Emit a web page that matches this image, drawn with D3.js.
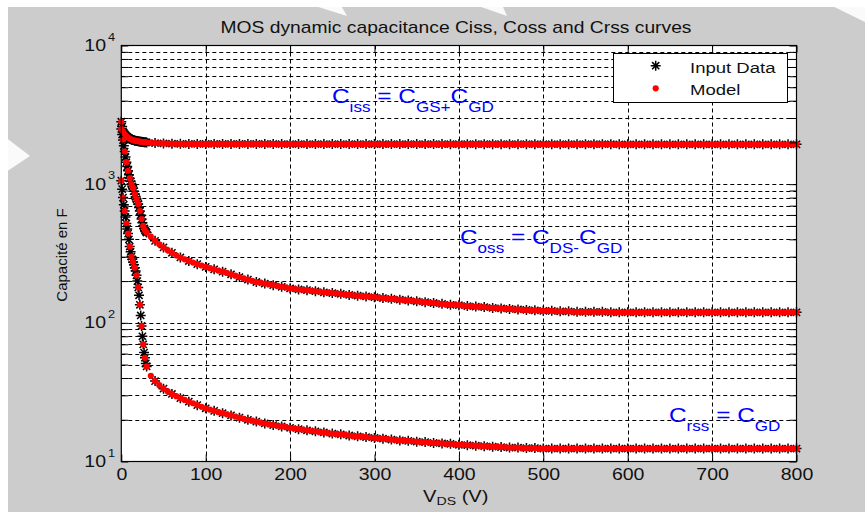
<!DOCTYPE html>
<html>
<head>
<meta charset="utf-8">
<script src="https://cdn.jsdelivr.net/npm/d3@7"></script>
<style>
  html, body { margin: 0; padding: 0; background: #fff; }
  svg { display: block; }
</style>
</head>
<body>
<svg id="chart" width="865" height="512"></svg>
<script>
// ---- x tick values (V) ----
const xTicks = [0, 100, 200, 300, 400, 500, 600, 700, 800];
// ---- y decade exponents (10^n F) ----
const yExponents = [1, 2, 3, 4];

// ---- measured input data: drain-source voltage (V) ----
const vInput = [
  0,1,2,3,4,5,6,7,8,9,10,11,12,13,14,15,16,17,18,19,20,21,22,23,24,25,26,27,28,29,30,
  40,50,60,70,80,90,100,110,120,130,140,150,160,170,180,190,200,210,220,230,
  240,250,260,270,280,290,300,310,320,330,340,350,360,370,380,390,400,410,420,430,
  440,450,460,470,480,490,500,510,520,530,540,550,560,570,580,590,600,610,620,630,
  640,650,660,670,680,690,700,710,720,730,740,750,760,770,780,790,800
];
const cissInput = [
  2820,2600,2400,2350,2300,2260,2220,2195,2170,2150,2130,2115,2100,2090,2080,2070,2060,2055,2050,2045,2040,2035,2030,2025,2020,2015,2010,2008,2005,2002,2000,
  1980,1966,1958,1953,1951,1950,1950,1950,1950,1950,1950,1950,1950,1950,1950,1948,1948,1948,1948,1948,
  1948,1948,1948,1948,1948,1946,1946,1946,1946,1946,1946,1946,1946,1946,1946,1944,1944,1944,1944,1944,
  1944,1944,1944,1944,1944,1942,1942,1942,1942,1942,1942,1942,1942,1942,1942,1940,1940,1940,1940,1940,
  1940,1940,1940,1940,1940,1938,1938,1938,1938,1938,1938,1938,1938,1938,1938,1938,1938
];
const cossInput = [
  2500,2280,2080,1890,1720,1570,1440,1340,1250,1170,1100,1050,1000,965,935,890,845,810,780,750,720,680,640,600,560,528,500,480,465,455,448,
  390,350,320,296,279,265,253,243,234,224,214,205,197,192,187,182,177,174,172,169,
  166,164,162,159,157,155,153,151,149,147,145,143,141,139,137,135,134,132,131,130,
  128,127,126,125,124,123,122,122,121,121,120,120,120,120,119,119,119,119,119,119,
  119,119,119,119,119,119,119,119,119,119,119,119,119,119,119,119,119
];
const crssInput = [
  1060,920,800,710,640,580,520,475,440,400,355,325,300,287,275,262,250,236,220,200,180,158,135,113,95,80,70,61,56,51,48.5,
  38,33.5,30.7,28.6,27,25.5,24.2,23.2,22.3,21.5,20.7,20.0,19.4,18.8,18.3,17.9,17.5,17.1,16.8,16.5,
  16.2,15.9,15.7,15.4,15.2,15.0,14.8,14.6,14.4,14.2,14.1,13.9,13.8,13.6,13.5,13.4,13.2,13.1,13.0,12.9,
  12.8,12.7,12.6,12.6,12.5,12.5,12.4,12.4,12.4,12.4,12.4,12.4,12.4,12.4,12.4,12.4,12.4,12.4,12.4,12.4,
  12.4,12.4,12.4,12.4,12.4,12.4,12.4,12.4,12.4,12.4,12.4,12.4,12.4,12.4,12.4,12.4,12.4
];

// ---- fitted model: drain-source voltage (V) ----
const vModel = [
  0,2,4,6,8,10,12,14,16,18,20,22,24,26,28,30,
  35,40,45,50,55,60,65,70,75,80,
  85,90,95,100,105,110,115,120,125,130,
  135,140,145,150,155,160,165,170,175,180,
  185,190,195,200,205,210,215,220,225,230,
  235,240,245,250,255,260,265,270,275,280,
  285,290,295,300,305,310,315,320,325,330,
  335,340,345,350,355,360,365,370,375,380,
  385,390,395,400,405,410,415,420,425,430,
  435,440,445,450,455,460,465,470,475,480,
  485,490,495,500,505,510,515,520,525,530,
  535,540,545,550,555,560,565,570,575,580,
  585,590,595,600,605,610,615,620,625,630,
  635,640,645,650,655,660,665,670,675,680,
  685,690,695,700,705,710,715,720,725,730,
  735,740,745,750,755,760,765,770,775,780,
  785,790,795,800
];
const cissModel = [
  2820,2400,2300,2220,2170,2130,2100,2080,2060,2050,2040,2030,2020,2010,2005,2000,
  1990,1980,1972,1966,1962,1958,1955,1953,1952,1951,
  1950,1950,1950,1950,1950,1950,1950,1950,1950,1950,
  1950,1950,1950,1950,1950,1950,1950,1950,1950,1950,
  1948,1948,1948,1948,1948,1948,1948,1948,1948,1948,
  1948,1948,1948,1948,1948,1948,1948,1948,1948,1948,
  1946,1946,1946,1946,1946,1946,1946,1946,1946,1946,
  1946,1946,1946,1946,1946,1946,1946,1946,1946,1946,
  1944,1944,1944,1944,1944,1944,1944,1944,1944,1944,
  1944,1944,1944,1944,1944,1944,1944,1944,1944,1944,
  1942,1942,1942,1942,1942,1942,1942,1942,1942,1942,
  1942,1942,1942,1942,1942,1942,1942,1942,1942,1942,
  1940,1940,1940,1940,1940,1940,1940,1940,1940,1940,
  1940,1940,1940,1940,1940,1940,1940,1940,1940,1940,
  1938,1938,1938,1938,1938,1938,1938,1938,1938,1938,
  1938,1938,1938,1938,1938,1938,1938,1938,1938,1938,
  1938,1938,1938,1938
];
const cossModel = [
  2500,2080,1720,1440,1250,1100,1000,935,845,780,720,640,560,500,465,448,
  418,390,368,350,334,320,307,296,287,279,
  272,265,259,253,248,243,238,234,229,224,
  219,214,209,205,201,197,195,192,190,187,
  185,182,180,177,176,174,173,172,170,169,
  168,166,165,164,163,162,160,159,158,157,
  156,155,154,153,152,151,150,149,148,147,
  146,145,144,143,142,141,140,139,138,137,
  136,135,135,134,133,132,132,131,130,130,
  129,128,128,127,126,126,125,125,124,124,
  123,123,123,122,122,122,121,121,121,121,
  120,120,120,120,120,120,120,120,120,119,
  119,119,119,119,119,119,119,119,119,119,
  119,119,119,119,119,119,119,119,119,119,
  119,119,119,119,119,119,119,119,119,119,
  119,119,119,119,119,119,119,119,119,119,
  119,119,119,119
];
const crssModel = [
  1060,800,640,520,440,355,300,275,250,220,180,135,95,70,56,48.5,
  41.5,38,35.5,33.5,32,30.7,29.6,28.6,27.8,27,
  26.3,25.5,24.8,24.2,23.7,23.2,22.7,22.3,21.9,21.5,
  21.1,20.7,20.3,20.0,19.7,19.4,19.1,18.8,18.5,18.3,
  18.1,17.9,17.7,17.5,17.3,17.1,17.0,16.8,16.6,16.5,
  16.3,16.2,16.0,15.9,15.8,15.7,15.6,15.4,15.3,15.2,
  15.1,15.0,14.9,14.8,14.7,14.6,14.5,14.4,14.3,14.2,
  14.2,14.1,14.0,13.9,13.8,13.8,13.7,13.6,13.6,13.5,
  13.4,13.4,13.3,13.2,13.2,13.1,13.1,13.0,13.0,12.9,
  12.9,12.8,12.8,12.7,12.7,12.6,12.6,12.6,12.5,12.5,
  12.5,12.5,12.4,12.4,12.4,12.4,12.4,12.4,12.4,12.4,
  12.4,12.4,12.4,12.4,12.4,12.4,12.4,12.4,12.4,12.4,
  12.4,12.4,12.4,12.4,12.4,12.4,12.4,12.4,12.4,12.4,
  12.4,12.4,12.4,12.4,12.4,12.4,12.4,12.4,12.4,12.4,
  12.4,12.4,12.4,12.4,12.4,12.4,12.4,12.4,12.4,12.4,
  12.4,12.4,12.4,12.4,12.4,12.4,12.4,12.4,12.4,12.4,
  12.4,12.4,12.4,12.4
];

// ---- layout ----
const W = 865, H = 512;
const M = { left: 121.3, right: 796.5, top: 45.5, bottom: 461.5 };
const FONT = "'Liberation Sans', Arial, Helvetica, sans-serif";
const SX = 1.22;   // horizontal glyph stretch of the figure text

const svg = d3.select("#chart");
const x = d3.scaleLinear().domain([0, 800]).range([M.left, M.right]);
const y = d3.scaleLog().domain([10, 10000]).range([M.bottom, M.top]);

// page and figure background
svg.append("rect").attr("width", W).attr("height", H).attr("fill", "#fff");
svg.append("rect").attr("x", 8).attr("y", 7).attr("width", W - 8).attr("height", H - 7).attr("fill", "#cccccc");
// light diagonal page bands along the figure edges
svg.append("g").attr("fill", "#fff").attr("opacity", 0.9)
  .selectAll("polygon")
  .data([
    [[296, 0], [338, 0], [347, 16]],
    [[461, 0], [500, 0], [507, 16]],
    [[820, 0], [865, 0], [865, 22]],
    [[0, 133], [30, 156], [0, 176]]
  ])
  .join("polygon")
  .attr("points", d => d.map(p => p.join(",")).join(" "));

// axes background
svg.append("rect")
  .attr("x", M.left).attr("y", M.top)
  .attr("width", M.right - M.left).attr("height", M.bottom - M.top)
  .attr("fill", "#fff");

// dashed grid
const yAll = y.ticks();
const snap = v => Math.round(v) + 0.5;
const grid = svg.append("g")
  .attr("stroke", "#000").attr("stroke-width", 1).attr("stroke-dasharray", "4,3");
grid.selectAll("line.h").data(yAll.filter(v => v > 10 && v < 10000)).join("line")
  .attr("class", "h")
  .attr("x1", M.left).attr("x2", M.right)
  .attr("y1", d => snap(y(d))).attr("y2", d => snap(y(d)));
grid.selectAll("line.v").data(xTicks.filter(v => v > 0 && v < 800)).join("line")
  .attr("class", "v")
  .attr("y1", M.top).attr("y2", M.bottom)
  .attr("x1", d => snap(x(d))).attr("x2", d => snap(x(d)));

// data marks: input data as asterisks, model as red dots on top
const asterisk = "M-5,0H5M0,-5V5M-3.6,-3.6L3.6,3.6M-3.6,3.6L3.6,-3.6";
const inputSeries = [cissInput, cossInput, crssInput];
const modelSeries = [cissModel, cossModel, crssModel];

const gIn = svg.append("g").attr("stroke", "#000").attr("stroke-width", 1.5).attr("fill", "none");
inputSeries.forEach(cs => {
  gIn.append("g").selectAll("path").data(d3.zip(vInput, cs)).join("path")
    .attr("d", asterisk)
    .attr("transform", d => `translate(${x(d[0])},${y(d[1])})`);
});
const gMod = svg.append("g").attr("fill", "#ff0000");
modelSeries.forEach(cs => {
  gMod.append("g").selectAll("circle").data(d3.zip(vModel, cs)).join("circle")
    .attr("r", 3.1)
    .attr("cx", d => x(d[0])).attr("cy", d => y(d[1]));
});

// axes box
svg.append("rect")
  .attr("x", M.left).attr("y", M.top)
  .attr("width", M.right - M.left).attr("height", M.bottom - M.top)
  .attr("fill", "none").attr("stroke", "#000").attr("stroke-width", 1.2);

// ticks (inward) and x tick labels
const styleAxis = g => {
  g.attr("color", "#000");
  g.select(".domain").remove();
};
const gBottom = svg.append("g").attr("transform", `translate(0,${M.bottom})`)
  .call(d3.axisBottom(x).tickValues(xTicks).tickSizeInner(-7).tickSizeOuter(0)
        .tickPadding(7).tickFormat(d3.format("d")))
  .call(styleAxis);
gBottom.selectAll("text")
  .attr("font-family", FONT).attr("font-size", 16).attr("fill", "#111")
  .attr("transform", `scale(${SX},1)`);

svg.append("g").attr("transform", `translate(0,${M.top})`)
  .call(d3.axisTop(x).tickValues(xTicks).tickSizeInner(-7).tickSizeOuter(0).tickFormat(""))
  .call(styleAxis);
svg.append("g").attr("transform", `translate(${M.left},0)`)
  .call(d3.axisLeft(y).tickValues(yAll).tickSizeInner(-7).tickSizeOuter(0).tickFormat(""))
  .call(styleAxis);
svg.append("g").attr("transform", `translate(${M.right},0)`)
  .call(d3.axisRight(y).tickValues(yAll).tickSizeInner(-7).tickSizeOuter(0).tickFormat(""))
  .call(styleAxis);

// y decade labels 10^n
yExponents.forEach(e => {
  const g = svg.append("g")
    .attr("transform", `translate(106,${y(Math.pow(10, e)) + 5.5}) scale(${SX},1)`)
    .attr("font-family", FONT).attr("fill", "#111");
  g.append("text").attr("text-anchor", "end").attr("font-size", 16).text("10");
  g.append("text").attr("x", 1.6).attr("y", -10.5).attr("font-size", 10.5).text(e);
});

// title
svg.append("text")
  .attr("transform", `translate(456,33.3) scale(${SX},1)`)
  .attr("text-anchor", "middle").attr("font-family", FONT).attr("font-size", 15.8).attr("fill", "#111")
  .text("MOS dynamic capacitance Ciss, Coss and Crss curves");

// y axis label
svg.append("text")
  .attr("transform", "translate(67,255) rotate(-90)")
  .attr("text-anchor", "middle").attr("font-family", FONT).attr("font-size", 15).attr("fill", "#111")
  .text("Capacité en F");

// x axis label V_DS (V)
{
  const t = svg.append("text")
    .attr("transform", `translate(423,502) scale(${SX},1)`)
    .attr("font-family", FONT).attr("fill", "#111").style("white-space", "pre");
  t.append("tspan").attr("font-size", 16.5).text("V");
  t.append("tspan").attr("font-size", 11.6).attr("dy", 3).text("DS");
  t.append("tspan").attr("font-size", 16.5).attr("dy", -3).text(" (V)");
}

// capacitance relations
function relation(x0, y0, parts) {
  const t = svg.append("text")
    .attr("transform", `translate(${x0},${y0}) scale(${SX},1)`)
    .attr("font-family", FONT).attr("fill", "#0000ff").style("white-space", "pre");
  let cur = 0;
  parts.forEach(([s, sub]) => {
    const target = sub ? 9 : 0;
    t.append("tspan").attr("font-size", sub ? 14 : 20).attr("dy", target - cur).text(s);
    cur = target;
  });
}
relation(332, 103, [["C", 0], ["iss", 1], [" = ", 0], ["C", 0], ["GS", 1], ["+", 1], ["C", 0], ["GD", 1]]);
relation(460, 244, [["C", 0], ["oss", 1], [" = ", 0], ["C", 0], ["DS", 1], ["-", 1], ["C", 0], ["GD", 1]]);
relation(669, 422, [["C", 0], ["rss", 1], [" = ", 0], ["C", 0], ["GD", 1]]);

// legend
{
  const g = svg.append("g");
  g.append("rect").attr("x", 613.5).attr("y", 53.5).attr("width", 174).attr("height", 49)
    .attr("fill", "#fff").attr("stroke", "#000").attr("stroke-width", 1);
  g.append("path").attr("d", asterisk).attr("transform", "translate(655.7,65.7)")
    .attr("stroke", "#000").attr("stroke-width", 1.5).attr("fill", "none");
  g.append("circle").attr("cx", 655.7).attr("cy", 88.3).attr("r", 3.1).attr("fill", "#ff0000");
  const lt = (yy, s) => g.append("text")
    .attr("transform", `translate(690,${yy}) scale(${SX},1)`)
    .attr("font-family", FONT).attr("font-size", 15.2).attr("fill", "#111").text(s);
  lt(72.5, "Input Data");
  lt(94.5, "Model");
}
</script>
</body>
</html>
